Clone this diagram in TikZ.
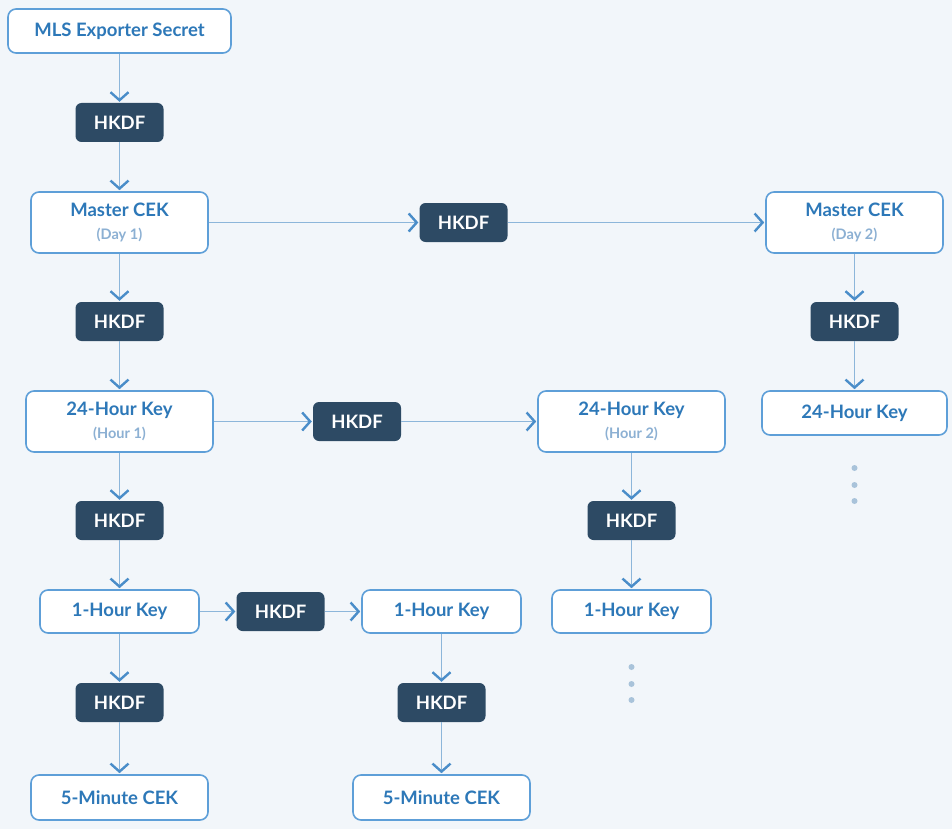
\documentclass[tikz,border=0pt]{standalone}
\usepackage{fontspec}
\setmainfont{Lato}
\usetikzlibrary{arrows.meta, positioning}
\definecolor{fondo}{HTML}{F2F6FA}
\definecolor{borde}{HTML}{5E9FD8}
\definecolor{textoazul}{HTML}{2D78B8}
\definecolor{subazul}{HTML}{8CB0D3}
\definecolor{oscuro}{HTML}{2D4A64}
\definecolor{linea}{HTML}{8DB6DA}
\definecolor{punta}{HTML}{4A8DC9}
\definecolor{puntos}{HTML}{A9C3DA}
\newcommand{\sub}[1]{\\[3pt]{\fontsize{14.5}{16}\selectfont\color{subazul}#1}}
\tikzstyle{clave} = [draw=borde, fill=white, line width=1.6pt, rounded corners=8pt, text=textoazul, inner sep=0pt, align=center, font=\bfseries\fontsize{18.5}{20}\selectfont]
\tikzstyle{hkdf} = [fill=oscuro, rounded corners=6pt, text=white, inner sep=0pt, minimum width=88pt, minimum height=39pt, font=\bfseries\fontsize{18.5}{20}\selectfont]
\tikzstyle{flecha} = [draw=linea, line width=1.6pt, shorten >=1pt, -{Straight Barb[color=punta, length=8pt, width=18pt, line width=2.4pt]}]
\tikzstyle{punto} = [fill=puntos]

\begin{document}
\begin{tikzpicture}[x=1pt, y=-1pt]
	\fill[fondo] (0,0) rectangle (952,829);
	\useasboundingbox (0,0) rectangle (952,829);
	% columna izquierda
	\node[clave, minimum width=223pt, minimum height=44pt] (mls) at (119.5,31) {MLS Exporter Secret};
	\node[hkdf] (h1) at (119.5,122.5) {HKDF};
	\node[clave, minimum width=177pt, minimum height=61pt] (dia1) at (119.5,222.5) {Master CEK\sub{(Day 1)}};
	\node[hkdf] (h2) at (119.5,321.5) {HKDF};
	\node[clave, minimum width=187pt, minimum height=61pt] (hora1) at (119.5,421.5) {24-Hour Key\sub{(Hour 1)}};
	\node[hkdf] (h3) at (119.5,520.5) {HKDF};
	\node[clave, minimum width=159pt, minimum height=43pt] (uno1) at (119.5,611.5) {1-Hour Key};
	\node[hkdf] (h4) at (119.5,702.5) {HKDF};
	\node[clave, minimum width=177pt, minimum height=45pt] (cinco1) at (119.5,797.5) {5-Minute CEK};
	% dia 2
	\node[hkdf] (hd) at (463.5,222.5) {HKDF};
	\node[clave, minimum width=177pt, minimum height=61pt] (dia2) at (854.5,222.5) {Master CEK\sub{(Day 2)}};
	\node[hkdf] (hd2) at (854.5,321.5) {HKDF};
	\node[clave, minimum width=185pt, minimum height=44pt] (horad2) at (854.5,413) {24-Hour Key};
	% hora 2
	\node[hkdf] (hh) at (357,421.5) {HKDF};
	\node[clave, minimum width=187pt, minimum height=61pt] (hora2) at (631.5,421.5) {24-Hour Key\sub{(Hour 2)}};
	\node[hkdf] (hh2) at (631.5,520.5) {HKDF};
	\node[clave, minimum width=159pt, minimum height=43pt] (uno3) at (631.5,611.5) {1-Hour Key};
	% 1 hora
	\node[hkdf] (hu) at (280.5,611.5) {HKDF};
	\node[clave, minimum width=159pt, minimum height=43pt] (uno2) at (441.5,611.5) {1-Hour Key};
	\node[hkdf] (hu2) at (441.5,702.5) {HKDF};
	\node[clave, minimum width=177pt, minimum height=45pt] (cinco2) at (441.5,797.5) {5-Minute CEK};

	\draw[flecha] (mls) -- (h1);
	\draw[flecha] (h1) -- (dia1);
	\draw[flecha] (dia1) -- (h2);
	\draw[flecha] (h2) -- (hora1);
	\draw[flecha] (hora1) -- (h3);
	\draw[flecha] (h3) -- (uno1);
	\draw[flecha] (uno1) -- (h4);
	\draw[flecha] (h4) -- (cinco1);
	\draw[flecha] (dia1) -- (hd);
	\draw[flecha] (hd) -- (dia2);
	\draw[flecha] (dia2) -- (hd2);
	\draw[flecha] (hd2) -- (horad2);
	\draw[flecha] (hora1) -- (hh);
	\draw[flecha] (hh) -- (hora2);
	\draw[flecha] (hora2) -- (hh2);
	\draw[flecha] (hh2) -- (uno3);
	\draw[flecha] (uno1) -- (hu);
	\draw[flecha] (hu) -- (uno2);
	\draw[flecha] (uno2) -- (hu2);
	\draw[flecha] (hu2) -- (cinco2);

	\foreach \y in {468,485,501} \fill[punto] (854.5,\y) circle (3pt);
	\foreach \y in {667,684,700} \fill[punto] (631.5,\y) circle (3pt);
\end{tikzpicture}
\end{document}
